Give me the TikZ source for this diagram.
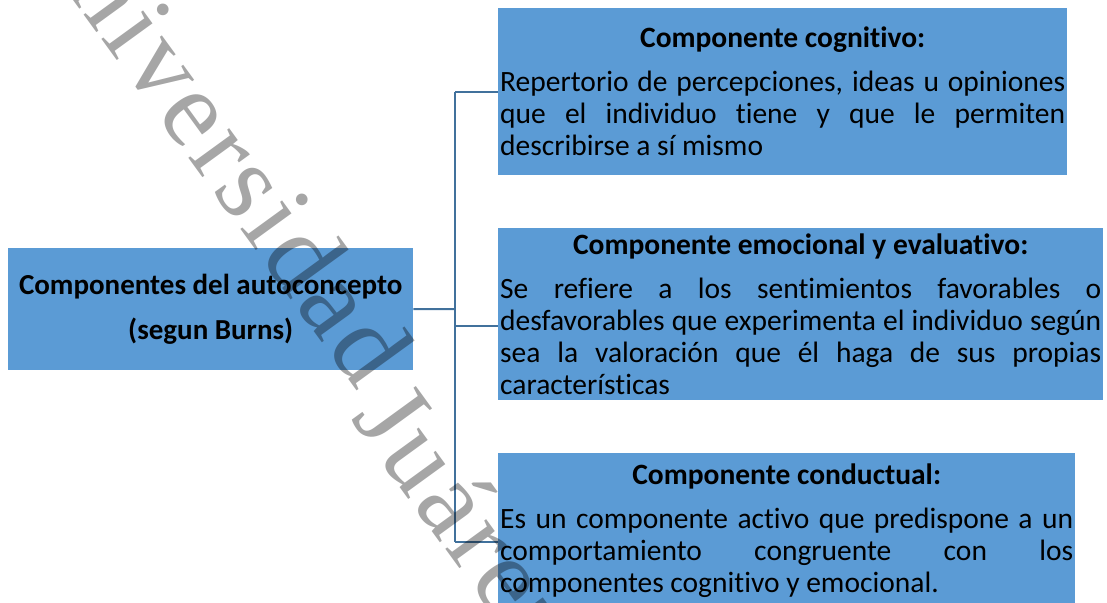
\documentclass[tikz,border=0pt]{standalone}
\usepackage{fontspec}
\setmainfont{Carlito}[Ligatures=NoCommon]
\newfontfamily\markfont{Liberation Serif}[LetterSpace=4]
\definecolor{boxblue}{HTML}{5B9BD5}
\definecolor{lineblue}{HTML}{41719C}
\definecolor{markgray}{HTML}{A6A6A6}
\hyphenpenalty=10000
\exhyphenpenalty=10000
\tolerance=10000
\begin{document}
\begin{tikzpicture}
  [x=1pt,y=-1pt,
   every node/.style={inner sep=0pt},
   comp/.style={fill=boxblue,anchor=north west,inner xsep=2pt,align=justify,
     font=\fontsize{29.5}{32}\selectfont},
   link/.style={draw=lineblue,line width=2pt},
   watermark/.style={text=markgray,rotate=-54,font=\markfont\fontsize{110}{110}\selectfont}]
  \useasboundingbox (0,0) rectangle (1107,602);
  \node[fill=boxblue,anchor=north west,minimum width=405pt,minimum height=122pt,
    align=center,font=\fontsize{29}{45}\selectfont\bfseries] (root) at (8,248)
    {Componentes del autoconcepto\\(segun Burns)};
  \node[comp,text width=565pt,minimum height=167pt] (cog) at (498,8)
    {{\centering\bfseries Componente cognitivo:\par}\vspace{12pt}
     Repertorio de percepciones, ideas u opiniones\linebreak
     que el individuo tiene y que le permiten\linebreak
     describirse a sí mismo};
  \node[comp,text width=601pt,minimum height=172pt] (emo) at (498,228)
    {{\centering\bfseries Componente emocional y evaluativo:\par}\vspace{12pt}
     Se refiere a los sentimientos favorables o\linebreak
     desfavorables que experimenta el individuo según\linebreak
     sea la valoración que él haga de sus propias\linebreak
     características};
  \node[comp,text width=573pt,minimum height=154pt] (con) at (498,453)
    {{\centering\bfseries Componente conductual:\par}\vspace{12pt}
     Es un componente activo que predispone a un\linebreak
     comportamiento congruente con los\linebreak
     componentes cognitivo y emocional.};
  % connectors
  \coordinate (hub) at (455,309);
  \coordinate (emo in) at ([yshift=-12pt]emo.west);
  \coordinate (con in) at ([yshift=-12pt]con.west);
  \draw[link] (root.east) -- (hub);
  \draw[link] (hub |- cog.west) -- (hub |- con in);
  \draw[link] (hub |- cog.west) -- (cog.west);
  \draw[link] (hub |- emo in) -- (emo in);
  \draw[link] (hub |- con in) -- (con in);
  % watermark
  \coordinate (gap) at (350,418);
  \begin{scope}[blend mode=multiply]
    \node[watermark,anchor=base east,xshift=-16pt,yshift=22pt] (mark a) at (gap) {Universidad};
    \node[watermark,anchor=base west] (mark b) at (gap) {Juárez};
  \end{scope}
\end{tikzpicture}
\end{document}
